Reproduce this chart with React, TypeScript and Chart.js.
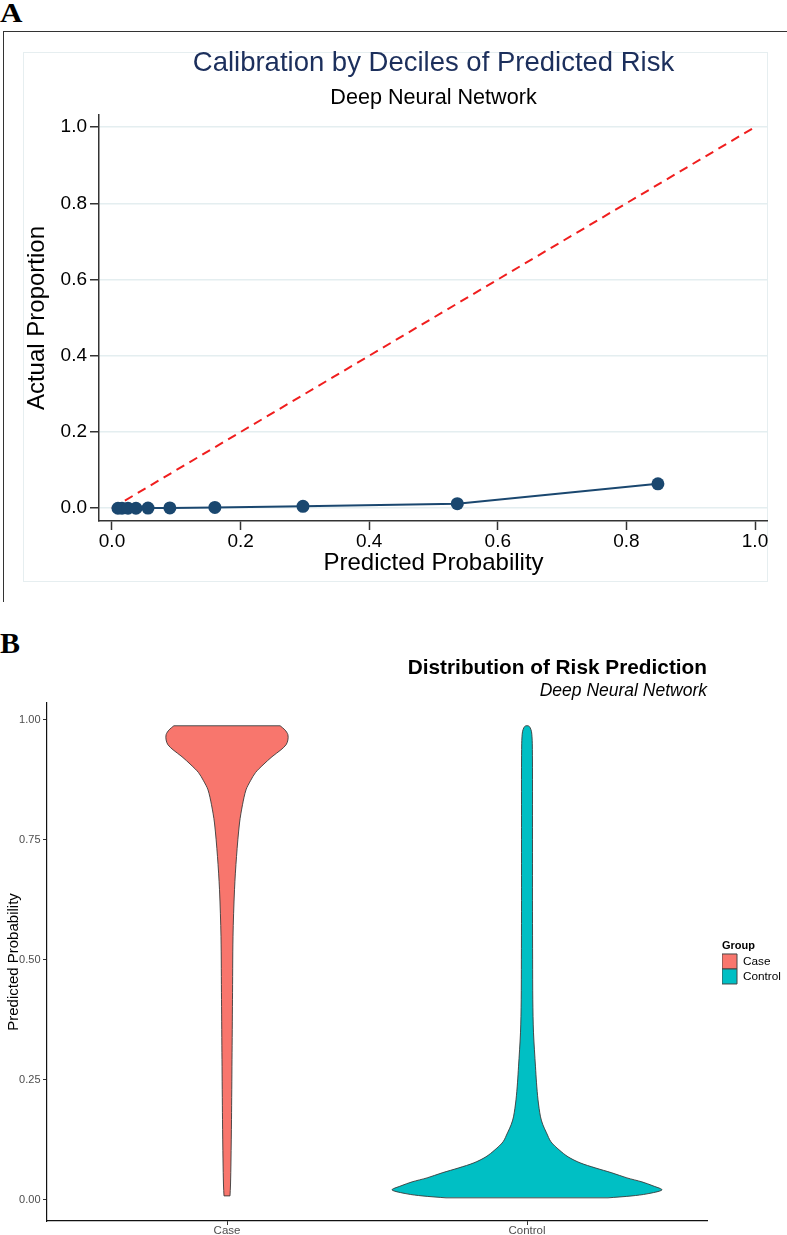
import React, { useEffect, useRef } from 'react';
import { Chart, registerables } from 'chart.js';

Chart.register(...registerables);

const FONT = '"Liberation Sans", Arial, Helvetica, sans-serif';
const SERIF = '"Liberation Serif", "Times New Roman", serif';

// ---------- Panel A: calibration by deciles ----------
const calPredicted = [0.0093, 0.0156, 0.0249, 0.0373, 0.056, 0.09, 0.16, 0.297, 0.537, 0.849];
const calActual = [0.0, 0.0, 0.0, 0.0, 0.0003, 0.0008, 0.002, 0.005, 0.012, 0.064];
const refLineX = [0, 1];
const refLineY = [0, 1];
const calTicks = [0, 0.2, 0.4, 0.6, 0.8, 1.0];

// ---------- Panel B: violin of predicted probability ----------
const groups = ['Case', 'Control'];
const groupColors = ['#F8766D', '#00BFC4'];
const probTicks = [0, 0.25, 0.5, 0.75, 1];

const caseLevels = [0.0083, 0.031, 0.083, 0.167, 0.292, 0.417, 0.548, 0.646, 0.715, 0.785, 0.823, 0.854, 0.873, 0.89, 0.906, 0.923, 0.9375, 0.948, 0.958, 0.969, 0.979, 0.9875];
const caseHalfWidth = [0.01, 0.0117, 0.0133, 0.015, 0.0167, 0.0183, 0.02, 0.025, 0.0317, 0.0417, 0.0517, 0.0633, 0.0783, 0.095, 0.12, 0.15, 0.18, 0.197, 0.203, 0.203, 0.193, 0.177];

const controlLevels = [0.0042, 0.0083, 0.0125, 0.0208, 0.0292, 0.0375, 0.0458, 0.0563, 0.0667, 0.0771, 0.0896, 0.1042, 0.1208, 0.1396, 0.1563, 0.1729, 0.2083, 0.2438, 0.2771, 0.3479, 0.4167, 0.5, 0.6, 0.7, 0.8, 0.9, 0.95, 0.9646, 0.975, 0.9833, 0.9875];
const controlHalfWidth = [0.27, 0.35, 0.4, 0.45, 0.42, 0.383, 0.333, 0.283, 0.227, 0.177, 0.137, 0.107, 0.08, 0.065, 0.053, 0.045, 0.0367, 0.0317, 0.0283, 0.0217, 0.0193, 0.0187, 0.0183, 0.0183, 0.0183, 0.0183, 0.0177, 0.0167, 0.015, 0.0107, 0.005];

const NAVY = '#1a476f';
const RED = '#f01e1e';
const OUTLINE = '#3a3a3a';

function violinDatasets(center: number, levels: number[], half: number[], color: string) {
  const n = levels.length - 1;
  const base = { pointRadius: 0, borderColor: OUTLINE, borderWidth: 0.9, backgroundColor: color };
  return [
    { ...base, data: levels.map((v, i) => ({ x: center - half[i], y: v })), fill: '+1', tension: 0.3 },
    { ...base, data: levels.map((v, i) => ({ x: center + half[i], y: v })), fill: false, tension: 0.3 },
    { ...base, data: [{ x: center - half[n], y: levels[n] }, { x: center + half[n], y: levels[n] }], fill: false, tension: 0 },
    { ...base, data: [{ x: center - half[0], y: levels[0] }, { x: center + half[0], y: levels[0] }], fill: false, tension: 0 },
  ];
}

export default function App() {
  const refA = useRef<HTMLCanvasElement | null>(null);
  const refB = useRef<HTMLCanvasElement | null>(null);

  useEffect(() => {
    const chartA = new Chart(refA.current as HTMLCanvasElement, {
      type: 'scatter',
      data: {
        datasets: [
          {
            data: calPredicted.map((x, i) => ({ x, y: calActual[i] })),
            showLine: true,
            borderColor: NAVY,
            backgroundColor: NAVY,
            borderWidth: 2,
            pointRadius: 6.5,
            pointBorderWidth: 0,
            pointBackgroundColor: NAVY,
          },
          {
            data: refLineX.map((x, i) => ({ x, y: refLineY[i] })),
            showLine: true,
            borderColor: RED,
            borderWidth: 2,
            borderDash: [9, 6],
            pointRadius: 0,
          },
        ],
      } as any,
      options: {
        responsive: false,
        animation: false,
        devicePixelRatio: 1,
        events: [],
        layout: { padding: 0, autoPadding: false },
        plugins: {
          legend: { display: false },
          tooltip: { enabled: false },
          title: {
            display: true,
            text: 'Calibration by Deciles of Predicted Risk',
            color: '#1c2f5c',
            font: { family: FONT, size: 27.5, weight: 'normal' },
            padding: { top: 15, bottom: 0 },
            fullSize: false,
          },
          subtitle: {
            display: true,
            text: 'Deep Neural Network',
            color: '#000',
            font: { family: FONT, size: 21.6, weight: 'normal' },
            padding: { top: 4.6, bottom: 4.5 },
            fullSize: false,
          },
        },
        scales: {
          x: {
            type: 'linear',
            min: -0.0202,
            max: 1.0202,
            afterBuildTicks: (s: any) => { s.ticks = calTicks.map((v) => ({ value: v })); },
            ticks: { callback: (v: any) => Number(v).toFixed(1), font: { family: FONT, size: 19 }, color: '#000', padding: 0, maxRotation: 0, autoSkip: false },
            grid: { drawOnChartArea: false, tickLength: 9, tickColor: '#333', tickWidth: 1.5 },
            border: { color: '#333', width: 1.5 },
            title: { display: true, text: 'Predicted Probability', color: '#000', font: { family: FONT, size: 24 }, padding: { top: 0, bottom: 4 } },
            afterFit: (s: any) => { s.height = 61; s.paddingLeft = 0; s.paddingRight = 0; },
          },
          y: {
            type: 'linear',
            min: -0.0335,
            max: 1.0315,
            afterBuildTicks: (s: any) => { s.ticks = calTicks.map((v) => ({ value: v })); },
            ticks: { callback: (v: any) => Number(v).toFixed(1), font: { family: FONT, size: 19 }, color: '#000', padding: 3 },
            grid: { drawOnChartArea: true, color: '#e4eef0', lineWidth: 1.5, tickLength: 9, tickColor: '#333', tickWidth: 1.5 },
            border: { color: '#333', width: 1.5 },
            title: { display: true, text: 'Actual Proportion', color: '#000', font: { family: FONT, size: 24 }, padding: { top: 0, bottom: 0 } },
            afterFit: (s: any) => { s.width = 76; s.paddingTop = 0; s.paddingBottom = 0; },
          },
        },
      } as any,
    });

    const violinSets = [
      ...violinDatasets(1, caseLevels, caseHalfWidth, groupColors[0]),
      ...violinDatasets(2, controlLevels, controlHalfWidth, groupColors[1]),
    ];

    const chartB = new Chart(refB.current as HTMLCanvasElement, {
      type: 'line',
      data: { datasets: violinSets } as any,
      options: {
        indexAxis: 'y',
        responsive: false,
        animation: false,
        devicePixelRatio: 1,
        events: [],
        layout: { padding: 0, autoPadding: false },
        plugins: {
          filler: { drawTime: 'beforeDatasetsDraw' },
          tooltip: { enabled: false },
          title: {
            display: true,
            text: 'Distribution of Risk Prediction',
            align: 'end',
            color: '#000',
            font: { family: FONT, size: 20.8, weight: 'bold' },
            padding: { top: 5.3, bottom: 0 },
            fullSize: false,
          },
          subtitle: {
            display: true,
            text: 'Deep Neural Network',
            align: 'end',
            color: '#000',
            font: { family: FONT, size: 17.5, style: 'italic', weight: 'normal' },
            padding: { top: 0.2, bottom: 1.5 },
            fullSize: false,
          },
          legend: {
            display: true,
            position: 'right',
            align: 'center',
            fullSize: false,
            maxWidth: 65,
            title: {
              display: true,
              text: 'Group',
              position: 'start',
              color: '#000',
              font: { family: FONT, size: 11, weight: 'bold' },
              padding: { top: 0, bottom: 0.8 },
            },
            labels: {
              boxWidth: 15,
              boxHeight: 15,
              padding: 0,
              color: '#000',
              font: { family: FONT, size: 11.8 },
              generateLabels: () =>
                groups.map((g, i) => ({
                  text: g,
                  fillStyle: groupColors[i],
                  strokeStyle: '#444',
                  lineWidth: 1,
                  hidden: false,
                  datasetIndex: i * 4,
                })),
            },
          },
        },
        scales: {
          x: {
            type: 'linear',
            position: 'bottom',
            min: 0.4,
            max: 2.6,
            afterBuildTicks: (s: any) => { s.ticks = groups.map((_, i) => ({ value: i + 1 })); },
            ticks: { callback: (v: any) => groups[Math.round(Number(v)) - 1], font: { family: FONT, size: 11.5 }, color: '#4d4d4d', padding: -1, maxRotation: 0, autoSkip: false },
            grid: { drawOnChartArea: false, tickLength: 4, tickColor: '#333', tickWidth: 1 },
            border: { color: '#111', width: 1.2 },
            afterFit: (s: any) => { s.height = 14; s.paddingLeft = 0; s.paddingRight = 0; },
          },
          y: {
            type: 'linear',
            position: 'left',
            min: -0.044,
            max: 1.035,
            afterBuildTicks: (s: any) => { s.ticks = probTicks.map((v) => ({ value: v })); },
            ticks: { callback: (v: any) => Number(v).toFixed(2), font: { family: FONT, size: 11 }, color: '#4d4d4d', padding: 2.5 },
            grid: { drawOnChartArea: false, tickLength: 4, tickColor: '#333', tickWidth: 1 },
            border: { color: '#111', width: 1.2 },
            title: { display: true, text: 'Predicted Probability', color: '#000', font: { family: FONT, size: 15 }, padding: { top: 5, bottom: 0 } },
            afterFit: (s: any) => { s.width = 47; s.paddingTop = 0; s.paddingBottom = 0; },
          },
          y2: {
            type: 'linear',
            position: 'right',
            display: true,
            grid: { display: false },
            border: { display: false },
            ticks: { display: false },
            afterFit: (s: any) => { s.width = 15; },
          },
        },
      } as any,
    });

    return () => {
      chartA.destroy();
      chartB.destroy();
    };
  }, []);

  return (
    <div style={{ position: 'fixed', left: 0, top: 0, width: 787, height: 1235, background: '#fff', overflow: 'hidden' }}>
      <div style={{ position: 'absolute', left: 0, top: 0, fontFamily: SERIF, fontWeight: 'bold', fontSize: 27, lineHeight: '27px', color: '#000', transform: 'scaleX(1.15)', transformOrigin: 'left top' }}>A</div>
      <div style={{ position: 'absolute', left: 3, top: 31, width: 790, height: 570, borderTop: '1.5px solid #333', borderLeft: '1.5px solid #333' }} />
      <div style={{ position: 'absolute', left: 23, top: 52, width: 745, height: 530, boxSizing: 'border-box', border: '1px solid #e6eef0' }} />
      <div style={{ position: 'absolute', left: 23, top: 32, width: 745, height: 550, overflow: 'hidden' }}>
        <canvas ref={refA} width={745} height={550} style={{ display: 'block' }} />
      </div>
      <div style={{ position: 'absolute', left: 0, top: 628, fontFamily: SERIF, fontWeight: 'bold', fontSize: 30, lineHeight: '30px', color: '#000' }}>B</div>
      <div style={{ position: 'absolute', left: 0, top: 650, width: 787, height: 585 }}>
        <canvas ref={refB} width={787} height={585} style={{ display: 'block' }} />
      </div>
    </div>
  );
}
